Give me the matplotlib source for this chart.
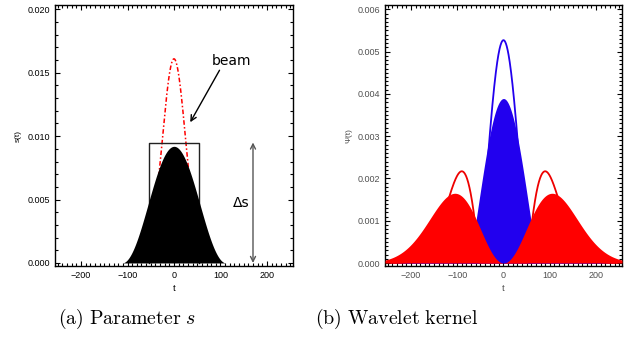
#!/usr/bin/env python3
"""
Parameter s and wavelet kernel, two panels side by side
"""

import matplotlib.pyplot as plt
import numpy as np

plt.rcParams["font.family"] = ["Liberation Sans", "DejaVu Sans"]
plt.rcParams["mathtext.fontset"] = "cm"

# --- values ---
t_lim = (-256, 256)

# panel (a): smoothed profile s(t), beam, box and delta-s marker
s_peak = 0.0092          # height of the black profile
s_halfwidth = 112        # where the profile reaches zero
beam_peak = 0.0161
beam_sigma = 25
box_t = [-53, 53]
box_top = 0.0095
delta_s_t = 170
beam_label_xy = (123, 0.0159)
beam_arrow_from = (98, 0.0152)
beam_arrow_to = (35, 0.0111)
delta_s_label_xy = (144, 0.0047)

# panel (b): wavelet kernel, outline and filled version
line_center_peak = 0.00527
line_side_peak = 0.00217
line_sigma = 52
fill_center_peak = 0.00389
fill_sigma = 74
fill_side_peak = 0.00165
fill_side_t = 105

x_ticks = [-200, -100, 0, 100, 200]
s_ticks = [0.000, 0.005, 0.010, 0.015, 0.020]
psi_ticks = [0.000, 0.001, 0.002, 0.003, 0.004, 0.005, 0.006]

t = np.linspace(t_lim[0], t_lim[1], 1025)


def mexican(t, sigma):
    u = t / sigma
    return (1 - u**2) * np.exp(-u**2 / 2)


def style_axes(ax, label_color):
    ax.tick_params(which="both", direction="in", top=True, right=True,
                   labelsize=6.5, labelcolor=label_color, width=0.8)
    ax.tick_params(which="major", length=3.8)
    ax.tick_params(which="minor", length=1.9)
    for sp in ax.spines.values():
        sp.set_linewidth(1.0)


fig = plt.figure(figsize=(6.38, 3.47), dpi=100)

# ---------------- (a) Parameter s ----------------
ax1 = fig.add_axes([0.0862, 0.2334, 0.373, 0.752])

beam = beam_peak * np.exp(-t**2 / (2 * beam_sigma**2))
beam = np.where(beam > 0.0003, beam, np.nan)
ax1.plot(t, beam, color="red", ls=(0, (3, 1.5, 1, 1.5)), lw=1.1, zorder=1)

ax1.plot([box_t[0], box_t[0], box_t[1], box_t[1]], [0, box_top, box_top, 0],
         color="#222222", lw=1.0, zorder=1)

s_curve = np.where(np.abs(t) < s_halfwidth,
                   s_peak * np.cos(np.pi * t / (2 * s_halfwidth)) ** 2, 0)
ax1.fill_between(t, 0, s_curve, color="black", lw=0, zorder=2)

ax1.annotate("", xy=(delta_s_t, 0), xytext=(delta_s_t, box_top),
             arrowprops=dict(arrowstyle="<->", color="#555555", lw=1.0,
                             mutation_scale=9, shrinkA=0, shrinkB=0))
ax1.text(*delta_s_label_xy, "Δs", fontsize=10, ha="center", va="center",
         family="DejaVu Sans")
ax1.text(*beam_label_xy, "beam", fontsize=10, ha="center", va="center",
         family="DejaVu Sans")
ax1.annotate("", xy=beam_arrow_to, xytext=beam_arrow_from,
             arrowprops=dict(arrowstyle="->", color="black", lw=1.0,
                             mutation_scale=10, shrinkA=0, shrinkB=0))

ax1.set_xlim(*t_lim)
ax1.set_ylim(-0.00024, 0.02034)
ax1.set_xticks(x_ticks)
ax1.set_xticks(np.arange(-250, 251, 10), minor=True)
ax1.set_yticks(s_ticks)
ax1.set_yticklabels([f"{v:.3f}" for v in s_ticks])
ax1.set_yticks(np.arange(0, 0.0201, 0.001), minor=True)
ax1.set_xlabel("t", fontsize=6.8, labelpad=3)
ax1.set_ylabel("s(t)", fontsize=6, labelpad=4)
style_axes(ax1, "black")

# ---------------- (b) Wavelet kernel ----------------
ax2 = fig.add_axes([0.6034, 0.2334, 0.3715, 0.752])

m_line = mexican(t, line_sigma)
side_norm = 2 * np.exp(-1.5)
ax2.plot(t, line_center_peak * np.clip(m_line, 0, None), color="#2200ee",
         lw=1.3, zorder=1)
ax2.plot(t, line_side_peak * np.clip(-m_line, 0, None) / side_norm,
         color="#ee0000", lw=1.3, zorder=1)

blue_fill = fill_center_peak * np.clip(mexican(t, fill_sigma), 0, None)
ax2.fill_between(t, 0, blue_fill, color="#2200ee", lw=0, zorder=2)

u = t / fill_side_t
red_fill = fill_side_peak * u**2 * np.exp(1 - u**2)
ax2.fill_between(t, 0, red_fill, color="#ff0000", lw=0, zorder=3)

ax2.set_xlim(*t_lim)
ax2.set_ylim(-0.00007, 0.0061)
ax2.set_xticks(x_ticks)
ax2.set_xticks(np.arange(-250, 251, 10), minor=True)
ax2.set_yticks(psi_ticks)
ax2.set_yticklabels([f"{v:.3f}" for v in psi_ticks])
ax2.set_yticks(np.arange(0, 0.00601, 0.0001), minor=True)
ax2.set_xlabel("t", fontsize=6.8, labelpad=3, color="#505050")
ax2.set_ylabel("Ψ(t)", fontsize=6, labelpad=4, color="#505050")
style_axes(ax2, "#505050")

# captions
fig.text(127.5 / 638, 1 - 319 / 347, r"$\mathrm{(a)\ Parameter}\ s$",
         fontsize=14.3, ha="center", va="center")
fig.text(396.7 / 638, 1 - 319 / 347, r"$\mathrm{(b)\ Wavelet\ kernel}$",
         fontsize=14.3, ha="center", va="center")

fig.savefig("out.png", dpi=100)
